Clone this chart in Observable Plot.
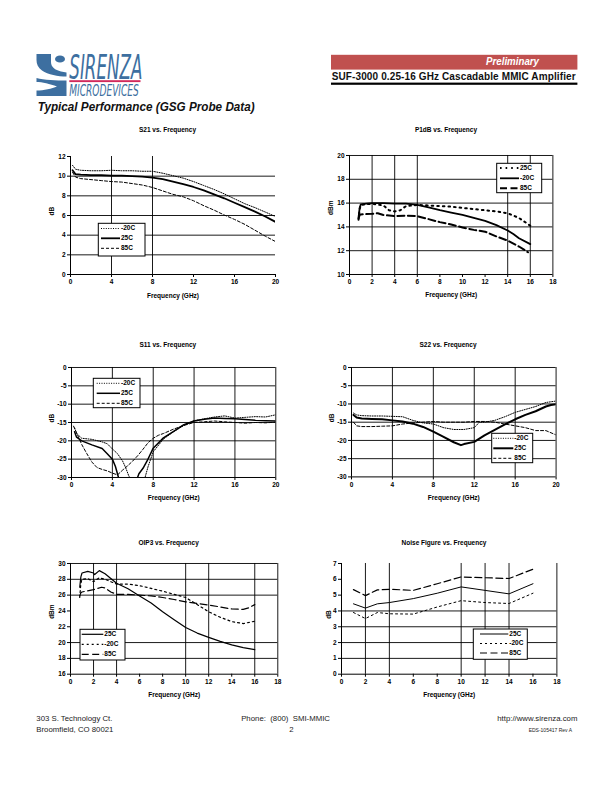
<!DOCTYPE html>
<html><head><meta charset="utf-8">
<script src="https://cdn.jsdelivr.net/npm/d3@7"></script>
<script src="https://cdn.jsdelivr.net/npm/@observablehq/plot@0.6"></script>
<style>
body{margin:0;background:#fff;font-family:"Liberation Sans",Arial,sans-serif;}
#page{position:relative;width:612px;height:792px;overflow:hidden;background:#fff;}
</style></head><body><div id="page"></div>
<script>
// ---------------- DATA ----------------
const seriesNames = ["-20C", "25C", "85C"];

// S21 vs Frequency
const s21Freq = [0.2,0.5,1,2,3,4,5,6,7,8,9,10,11,12,13,14,15,16,17,18,19,20];
const s21M20 = [11.1,10.7,10.6,10.55,10.55,10.6,10.55,10.55,10.5,10.5,10.3,10.05,9.8,9.45,9.05,8.65,8.2,7.7,7.2,6.8,6.35,5.9];
const s21T25 = [10.6,10.2,10.15,10.1,10.1,10.05,10.05,10.0,9.95,9.85,9.7,9.45,9.2,8.9,8.55,8.15,7.75,7.3,6.85,6.4,5.9,5.35];
const s21T85 = [10.4,9.9,9.75,9.65,9.55,9.45,9.4,9.25,9.1,8.85,8.5,8.15,7.9,7.5,7.0,6.55,6.05,5.6,5.1,4.5,3.9,3.35];
const s21XTicks = [0,4,8,12,16,20];
const s21YTicks = [0,2,4,6,8,10,12];

// P1dB vs Frequency
const p1FreqT25 = [0.8,0.9,1,1.5,2,3,4,5,6,7,8,9,10,11,12,13,14,14.5,15,16];
const p1T25 = [14.8,15.6,15.9,15.95,16.0,16.0,15.95,15.95,15.85,15.65,15.4,15.2,15.0,14.75,14.5,14.15,13.7,13.4,13.05,12.55];
const p1FreqM20 = [0.8,0.9,1,2,3,3.5,4,4.5,5,6,7,8,9,10,11,12,13,14,15,16];
const p1M20 = [14.6,15.5,15.85,15.95,15.8,15.4,15.3,15.4,15.75,15.85,15.8,15.75,15.7,15.6,15.5,15.4,15.3,15.15,14.75,14.1];
const p1FreqT85 = [0.8,0.9,1,2,2.5,3,4,5,6,7,8,9,10,11,12,13,14,15,15.8];
const p1T85 = [14.7,15.0,15.05,15.1,15.15,15.0,14.9,14.95,14.9,14.65,14.4,14.2,13.95,13.75,13.6,13.2,12.85,12.35,11.87];
const p1XTicks = [0,2,4,6,8,10,12,14,16,18];
const p1YTicks = [10,12,14,16,18,20];

// S11 vs Frequency
const s11FreqM20 = [0.3,0.5,1,2,3,3.5,4,4.5,5,5.3,5.6,6.3,7.2,7.5,8,9,10,11,12,13,14,15,16,17,18,19,20];
const s11M20 = [-16.5,-18,-19.3,-19.6,-20.3,-20.8,-22.2,-23.5,-25.5,-27.3,-29.5,-33,-30,-27,-23,-19.5,-17.5,-15.8,-14.5,-14,-13.5,-13.2,-13.8,-13.6,-13.4,-13.5,-12.9];
const s11FreqT25 = [0.3,0.5,1,2,3,3.5,4,4.3,4.6,5.5,6.4,6.6,7,7.4,8,9,10,11,12,13,14,15,16,17,18,19,20];
const s11T25 = [-17.5,-19,-20,-21.1,-22.1,-23.5,-25,-27,-30,-35,-30.5,-29,-27.5,-25.5,-22,-19.2,-17.4,-15.6,-14.6,-14.1,-13.8,-13.9,-14.0,-14.2,-14.4,-14.5,-14.6];
const s11FreqT85 = [0.2,0.5,1,1.5,2,2.5,3,3.5,4,4.5,5,5.5,6,6.5,7,7.5,8,8.5,9,10,11,12,13,14,15,16,17,18,19,20];
const s11T85 = [-16,-17.8,-21,-23.5,-25.8,-27.3,-27.8,-28.2,-28.8,-29.3,-28,-26.8,-25.5,-24,-22.3,-20.5,-19.3,-18.5,-18,-16.8,-15.8,-15,-14.8,-14.6,-14.8,-15,-15.2,-15,-15.1,-14.9];
const sParXTicks = [0,4,8,12,16,20];
const sParYTicks = [-30,-25,-20,-15,-10,-5,0];

// S22 vs Frequency
const s22FreqM20 = [0.2,0.5,1,2,3,4,5,6,7,8,9,10,11,12,12.5,13,14,15,16,17,18,19,20];
const s22M20 = [-12.5,-13,-13.2,-13.3,-13.3,-13.4,-13.5,-14.5,-15.2,-15.5,-16.5,-17,-17,-16.5,-15,-15,-14.5,-13.5,-12.3,-11.5,-10.7,-9.6,-9.2];
const s22FreqT25 = [0.2,0.5,1,2,3,4,5,6,7,8,9,10,10.7,11,12,13,14,15,16,17,18,19,19.5,20];
const s22T25 = [-13,-13.7,-14,-14.1,-14.2,-14.5,-14.8,-15.4,-16.3,-17.6,-19,-20.5,-21.3,-21,-20.4,-18.6,-17.1,-15.6,-14.2,-13,-12,-10.7,-10.3,-10.1];
const s22FreqT85 = [0.2,0.5,1,2,3,4,5,6,7,8,9,10,11,12,13,14,15,16,17,18,19,20];
const s22T85 = [-15,-16,-16.2,-16.2,-16.1,-16,-15.5,-15.2,-15,-14.8,-15,-15,-15,-14.8,-14.8,-15,-15.5,-16,-16.5,-17.3,-17.3,-18.5];

// OIP3 vs Frequency
const oipFreqT25 = [0.8,0.9,1,1.5,2,2.1,2.5,3,3.5,4,5,6,7,8,9,10,11,12,13,14,15,16];
const oipT25 = [27.0,28.3,28.8,29.0,28.8,28.6,29.1,28.7,28.1,27.5,26.8,25.9,25.0,23.9,22.9,21.9,21.2,20.65,20.15,19.7,19.35,19.1];
const oipFreqM20 = [0.8,0.9,1,1.5,2,2.5,3,3.5,4,5,6,7,8,9,10,11,12,13,14,15,16];
const oipM20 = [25.7,27.5,28.0,28.1,27.7,28.2,28.0,27.7,27.4,27.4,27.2,26.85,26.5,26.1,25.7,24.8,23.9,23.2,22.65,22.4,22.7];
const oipFreqT85 = [0.8,0.9,1,2,2.7,3,3.5,4,5,6,7,8,9,10,11,12,13,14,15,15.5,16];
const oipT85 = [25.9,26.3,26.4,26.7,27.0,26.9,26.4,26.1,26.1,26.0,25.9,25.7,25.45,25.15,24.95,24.75,24.5,24.25,24.2,24.4,24.8];
const oipXTicks = [0,2,4,6,8,10,12,14,16,18];
const oipYTicks = [16,18,20,22,24,26,28,30];

// Noise Figure vs Frequency
const nfFreq = [1,2,3,4,6,8,10,12,14,16];
const nfT25 = [4.45,4.18,4.45,4.53,4.78,5.12,5.52,5.3,5.08,5.72];
const nfM20 = [3.9,3.52,3.9,3.82,3.8,4.25,4.65,4.53,4.47,5.12];
const nfT85 = [5.35,4.97,5.33,5.37,5.3,5.72,6.15,6.1,6.05,6.64];
const nfXTicks = [0,2,4,6,8,10,12,14,16,18];
const nfYTicks = [0,1,2,3,4,5,6,7];

const xLabel = "Frequency (GHz)";

// ---------------- STYLES / LAYOUT ----------------
const FONT = "'Liberation Sans', Arial, sans-serif";
const DOT = "1,1.4", DASH = "3,2", BIGDOT = "1.6,4", LONG = "7,3.5", SDOT = "2,3";

const charts = [
  { title:"S21 vs. Frequency", box:[70,275,156,274], xDomain:[0,20], yDomain:[0,12], xTicks:s21XTicks, yTicks:s21YTicks,
    gridX:[4,8], gridY:[2,4,6,8,10], yLabel:"dB", yLabelDx:-19, titleY:130,
    series:[{x:s21Freq,y:s21M20,w:1,dash:DOT},{x:s21Freq,y:s21T25,w:1.8},{x:s21Freq,y:s21T85,w:1,dash:DASH}],
    legend:{box:[98.3,223.3,46.7,32.7], rows:[228.5,238.3,248.3], lx:[101,120], order:[0,1,2]} },
  { title:"P1dB vs. Frequency", box:[349.3,552.7,155,274], xDomain:[0,18], yDomain:[10,20], xTicks:p1XTicks, yTicks:p1YTicks,
    gridX:[2,4,6,14,16,18], gridY:[12,14,16,18,20], yLabel:"dBm", yLabelDx:-19, titleY:130,
    series:[{x:p1FreqT25,y:p1T25,w:1.8},{x:p1FreqM20,y:p1M20,w:2,dash:BIGDOT},{x:p1FreqT85,y:p1T85,w:2,dash:LONG}],
    legend:{box:[496.7,163.3,45,29.4], rows:[168,178.3,188.3], lx:[500,519], order:[1,0,2]} },
  { title:"S11 vs. Frequency", box:[70.7,275,366.7,476.7], xDomain:[0,20], yDomain:[-30,0], xTicks:sParXTicks, yTicks:sParYTicks,
    gridX:[4,8,12,16,20], gridY:[-25,-20,-15,-10,-5,0], yLabel:"dB", yLabelDx:-20, titleY:345,
    series:[{x:s11FreqM20,y:s11M20,w:1,dash:DOT},{x:s11FreqT25,y:s11T25,w:1.5},{x:s11FreqT85,y:s11T85,w:1,dash:DASH}],
    legend:{box:[93.3,378.3,46.7,29.4], rows:[383.3,393.3,403.3], lx:[96.7,120], order:[0,1,2]} },
  { title:"S22 vs. Frequency", box:[350.7,555.3,367.3,476.7], xDomain:[0,20], yDomain:[-30,0], xTicks:sParXTicks, yTicks:sParYTicks,
    gridX:[4,8,12,16,20], gridY:[-25,-20,-15,-10,-5,0], yLabel:"dB", yLabelDx:-20, titleY:345,
    series:[{x:s22FreqM20,y:s22M20,w:1,dash:DOT},{x:s22FreqT25,y:s22T25,w:2},{x:s22FreqT85,y:s22T85,w:1,dash:DASH}],
    legend:{box:[491.7,433.3,41,29.4], rows:[438.3,448.3,458.3], lx:[493.3,513.3], order:[0,1,2]} },
  { title:"OIP3 vs. Frequency", box:[70,277.3,563.3,674], xDomain:[0,18], yDomain:[16,30], xTicks:oipXTicks, yTicks:oipYTicks,
    gridX:[2,4,10,12,16,18], gridY:[18,20,26,28,30], yLabel:"dBm", yLabelDx:-19, titleY:543,
    series:[{x:oipFreqM20,y:oipM20,w:1.2,dash:SDOT},{x:oipFreqT25,y:oipT25,w:1.2},{x:oipFreqT85,y:oipT85,w:1.2,dash:LONG}],
    legend:{box:[80,629.3,45,30.7], rows:[634.3,644.3,654.3], lx:[81.7,103.3], order:[1,0,2]} },
  { title:"Noise Figure vs. Frequency", box:[341.3,556.7,563.3,674], xDomain:[0,18], yDomain:[0,7], xTicks:nfXTicks, yTicks:nfYTicks,
    gridX:[2,4,10,12,14,18], gridY:[1,2,3,4], yLabel:"dB", yLabelDx:-13, titleY:543,
    series:[{x:nfFreq,y:nfM20,w:1,dash:SDOT},{x:nfFreq,y:nfT25,w:1},{x:nfFreq,y:nfT85,w:1.2,dash:LONG}],
    legend:{box:[473.3,629,54,30.3], rows:[634,643.5,653], lx:[480,508.3], order:[1,0,2]} }
];

const page = document.getElementById("page");

function addChart(c) {
  const mL = 40, mR = 12, mT = 8, mB = 32;
  const w = c.box[1] - c.box[0], h = c.box[3] - c.box[2];
  const marks = [
    Plot.ruleY(c.gridY, {stroke:"#000", strokeWidth:0.9}),
    Plot.ruleX(c.gridX, {stroke:"#000", strokeWidth:0.9}),
    Plot.ruleX([c.xDomain[0]], {stroke:"#000", strokeWidth:1}),
    Plot.ruleY([c.yDomain[0]], {stroke:"#000", strokeWidth:1}),
    Plot.axisX({ticks:c.xTicks, tickSize:3, tickPadding:2, label:null, tickFormat:d => String(d)}),
    Plot.axisY({ticks:c.yTicks, tickSize:3, tickPadding:2, label:null, tickFormat:d => String(d)}),
    Plot.text([xLabel], {text:d => d, frameAnchor:"bottom", dy:23}),
    Plot.text([c.yLabel], {text:d => d, frameAnchor:"left", dx:c.yLabelDx, rotate:-90})
  ];
  for (const s of c.series) {
    marks.push(Plot.line(s.y, {x:(d, i) => s.x[i], y:d => d, stroke:"#000", strokeWidth:s.w,
      strokeDasharray:s.dash, clip:true}));
  }
  const svg = Plot.plot({
    width: w + mL + mR, height: h + mT + mB,
    marginLeft: mL, marginRight: mR, marginTop: mT, marginBottom: mB,
    x: {domain: c.xDomain}, y: {domain: c.yDomain},
    style: {fontFamily: FONT, fontSize: "6.5px", fontWeight: "bold", color: "#000", background: "transparent", overflow: "visible"},
    marks
  });
  svg.style.position = "absolute";
  svg.style.left = (c.box[0] - mL) + "px";
  svg.style.top = (c.box[2] - mT) + "px";
  page.appendChild(svg);
}
charts.forEach(addChart);

// ---------------- OVERLAY: header, titles, legends, footer ----------------
const NS = "http://www.w3.org/2000/svg";
const ov = document.createElementNS(NS, "svg");
ov.setAttribute("width", 612); ov.setAttribute("height", 792);
ov.style.position = "absolute"; ov.style.left = "0"; ov.style.top = "0";
page.appendChild(ov);
function el(tag, attrs, text, parent) {
  const e = document.createElementNS(NS, tag);
  for (const k in attrs) e.setAttribute(k, attrs[k]);
  if (text != null) e.textContent = text;
  (parent || ov).appendChild(e);
  return e;
}

// Logo
const BLUE = "#3d6fa0";
el("path", {d:"M36.5,54 L51,54 L51,62 C51,67 55,70 61,71.5 L66.5,72.5 L66.5,76.5 C58,76.5 48,74.5 42,70.5 C38,67.5 36.5,64 36.5,60 Z", fill:BLUE});
el("ellipse", {cx:60, cy:59, rx:5, ry:3.6, fill:BLUE});
el("path", {d:"M36.5,78 C44,80 56,80.5 66.5,80.5 L66.5,96 L36.5,96 L36.5,90.5 C44,90.5 52,88.5 57,86.5 C50,84 42,82 36.5,82 Z", fill:BLUE});
el("rect", {x:69.3, y:80.2, width:71.2, height:1.9, fill:"#d12a5c"});
const logoText = el("text", {"font-family":"'DejaVu Sans Condensed','Liberation Sans',sans-serif", "font-style":"italic", fill:BLUE});
el("tspan", {x:69.3, y:79.4, "font-size":33, textLength:73, lengthAdjust:"spacingAndGlyphs"}, "SIRENZA", logoText);
el("tspan", {x:69.3, y:95.9, "font-size":16, textLength:69.5, lengthAdjust:"spacingAndGlyphs"}, "MICRODEVICES", logoText);
el("text", {x:37.7, y:111, "font-family":FONT, "font-size":12, "font-weight":"bold", "font-style":"italic", fill:"#111",
  textLength:217, lengthAdjust:"spacingAndGlyphs"}, "Typical Performance (GSG Probe Data)");

// Right header
el("rect", {x:331, y:54.8, width:246.4, height:14.8, fill:"#c0504f"});
el("text", {x:486, y:65.3, "font-family":FONT, "font-size":10.5, "font-weight":"bold", "font-style":"italic", fill:"#fff",
  textLength:53, lengthAdjust:"spacingAndGlyphs"}, "Preliminary");
el("text", {x:331.7, y:80.3, "font-family":FONT, "font-size":10, "font-weight":"bold", fill:"#111",
  textLength:244, lengthAdjust:"spacing"}, "SUF-3000 0.25-16 GHz Cascadable MMIC Amplifier");
el("rect", {x:331, y:82.6, width:246.4, height:2.2, fill:"#000"});

// Chart titles & legends
for (const c of charts) {
  const cx = (c.box[0] + c.box[1]) / 2 - 5;
  el("text", {x:cx, y:c.titleY, "text-anchor":"middle", "dominant-baseline":"middle", "font-family":FONT,
    "font-size":6.5, "font-weight":"bold", fill:"#000"}, c.title);
  const L = c.legend;
  el("rect", {x:L.box[0], y:L.box[1], width:L.box[2], height:L.box[3], fill:"#fff", stroke:"#000", "stroke-width":1});
  L.order.forEach((si, r) => {
    const s = c.series[si];
    const y = L.rows[r];
    const a = {x1:L.lx[0], x2:L.lx[1], y1:y, y2:y, stroke:"#000", "stroke-width":s.w};
    if (s.dash) a["stroke-dasharray"] = s.dash;
    el("line", a);
    el("text", {x:L.lx[1] + 1, y:y, "dominant-baseline":"middle", "font-family":FONT, "font-size":6.5,
      "font-weight":"bold", fill:"#000"}, seriesNames[si]);
  });
}

// Footer
const ft = {"font-family":FONT, "font-size":7.8, fill:"#222"};
el("text", {...ft, x:36.3, y:720.5}, "303 S. Technology Ct.");
el("text", {...ft, x:36.3, y:731.5}, "Broomfield, CO 80021");
el("text", {...ft, x:285.6, y:720.5, "text-anchor":"middle", style:"white-space:pre"}, "Phone:  (800)  SMI-MMIC");
el("text", {...ft, x:291.4, y:731.5, "text-anchor":"middle"}, "2");
el("text", {...ft, x:577.4, y:720.5, "text-anchor":"end"}, "http://www.sirenza.com");
el("text", {"font-family":FONT, "font-size":5, fill:"#222", x:572, y:732, "text-anchor":"end"}, "EDS-105417 Rev A");
</script></body></html>
